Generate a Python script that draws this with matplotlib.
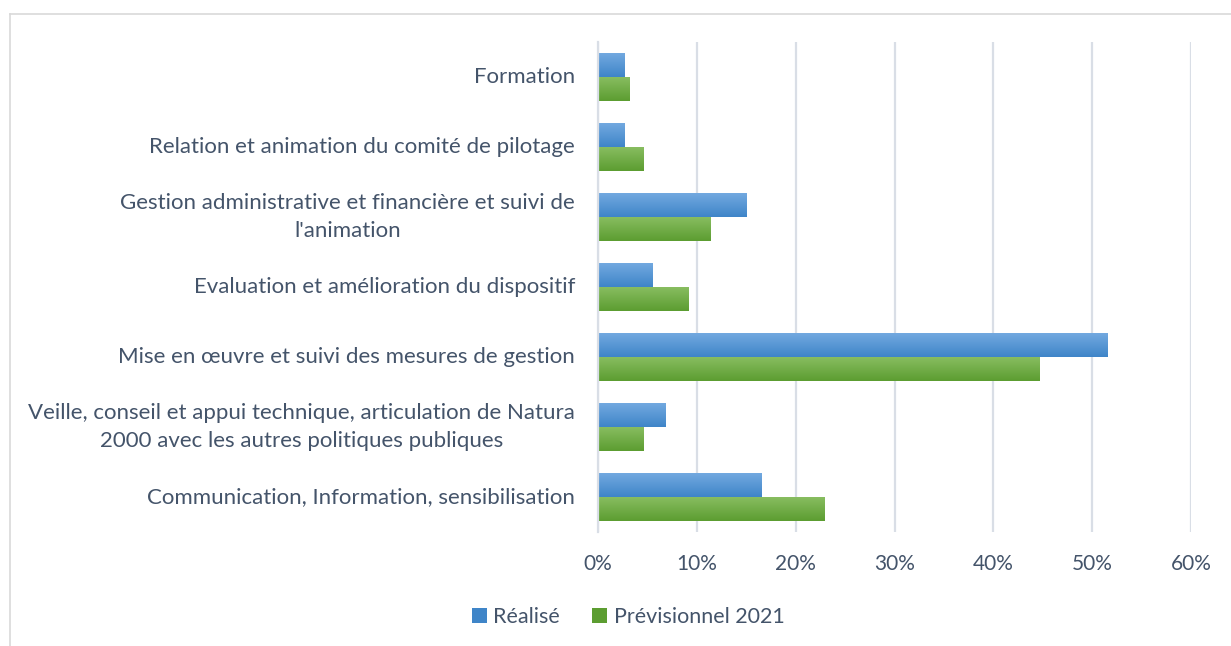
import numpy as np
import matplotlib
matplotlib.use("Agg")
import matplotlib.pyplot as plt
from matplotlib.lines import Line2D
from matplotlib.patches import Patch
import matplotlib.ticker as mtick

# Data (shares of time, %)
categories = [
    "Formation",
    "Relation et animation du comité de pilotage",
    "Gestion administrative et financière et suivi de\nl'animation",
    "Evaluation et amélioration du dispositif",
    "Mise en œuvre et suivi des mesures de gestion",
    "Veille, conseil et appui technique, articulation de Natura\n2000 avec les autres politiques publiques",
    "Communication, Information, sensibilisation",
]
realise = [2.7, 2.7, 15.0, 5.5, 51.6, 6.8, 16.5]
previsionnel = [3.2, 4.6, 11.4, 9.2, 44.7, 4.6, 22.9]
series_names = ["Réalisé", "Prévisionnel 2021"]

text_col = "#44546A"
grid_col = "#D9DEE6"
blue_top, blue_bot = "#72A9E0", "#3F85C8"
green_top, green_bot = "#88BD60", "#5C9D31"

plt.rcParams['font.family'] = ['Lato', 'DejaVu Sans']

fig = plt.figure(figsize=(12.31, 6.46), dpi=100)
ax = fig.add_axes([598 / 1231, 1 - 532 / 646, (1191 - 598) / 1231, (532 - 42) / 646])

y = np.arange(len(categories))
h = 0.338
b1 = ax.barh(y - h / 2, realise, height=h, color=blue_bot, zorder=2)
b2 = ax.barh(y + h / 2, previsionnel, height=h, color=green_bot, zorder=2)


def gradient(bars, top, bot):
    c1 = np.array(matplotlib.colors.to_rgb(top))
    c2 = np.array(matplotlib.colors.to_rgb(bot))
    t = np.linspace(0, 1, 64)[:, None]
    img = (c1 * (1 - t) + c2 * t)[:, None, :]
    for p in bars:
        x0, y0 = p.get_x(), p.get_y()
        w, hh = p.get_width(), p.get_height()
        ax.imshow(img, extent=[x0, x0 + w, y0 + hh, y0], origin="upper",
                  aspect="auto", zorder=3, interpolation="bilinear")


gradient(b1, blue_top, blue_bot)
gradient(b2, green_top, green_bot)

ax.set_ylim(len(categories) - 0.5, -0.5)
ax.set_xlim(0, 60)
ax.set_xticks(np.arange(0, 61, 10))
ax.xaxis.set_major_formatter(mtick.PercentFormatter(decimals=0))
ax.set_yticks(y)
ax.set_yticklabels(categories, multialignment="center", fontsize=16, linespacing=1.45,
                   va="center")
ax.tick_params(axis="both", length=0, colors=text_col)
ax.tick_params(axis="x", pad=16, labelsize=15)
ax.tick_params(axis="y", pad=16.5)
ax.grid(axis="x", color=grid_col, linewidth=1.6, zorder=0)
for s in ["top", "right", "bottom"]:
    ax.spines[s].set_visible(False)
ax.spines["left"].set_color(grid_col)
ax.spines["left"].set_linewidth(1.6)
ax.spines["left"].set_zorder(4)

handles = [Patch(facecolor=blue_bot, edgecolor="none"),
           Patch(facecolor=green_bot, edgecolor="none")]
fig.legend(handles, series_names, loc="center", bbox_to_anchor=(628 / 1231, 1 - 617 / 646),
           ncol=2, frameon=False, fontsize=15.5, labelcolor=text_col,
           handlelength=0.7, handleheight=0.7, handletextpad=0.3, columnspacing=1.5)

# chart area border (cropped on right / bottom)
fig.add_artist(Line2D([10 / 1231, 10 / 1231], [0, 1 - 14 / 646], transform=fig.transFigure,
                      color="#D9D9D9", linewidth=1.2))
fig.add_artist(Line2D([10 / 1231, 1], [1 - 14 / 646, 1 - 14 / 646], transform=fig.transFigure,
                      color="#D9D9D9", linewidth=1.2))

fig.savefig("out.png", dpi=100)
